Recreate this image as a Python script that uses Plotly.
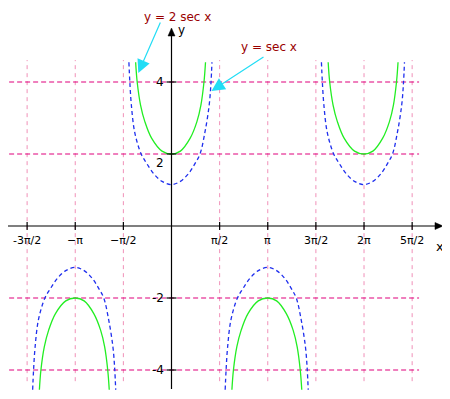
import math
import plotly.graph_objects as go

PI = math.pi

# ---- data ----
# branch centres (radians) and direction (+1 opens up, -1 opens down)
branch_centers = [-PI, 0.0, PI, 2 * PI]
branch_signs = [-1, 1, -1, 1]

# y = sec x (blue dashed): x offsets from branch centre, |y| values
sec_dx = [-1.39, -1.36, -1.31, -1.20, -0.99, -0.81, -0.59, -0.31, 0.0,
          0.29, 0.56, 0.77, 0.93, 1.09, 1.23, 1.29, 1.32]
sec_y = [4.55, 4.0, 3.36, 2.6, 2.0, 1.74, 1.46, 1.24, 1.15,
         1.24, 1.46, 1.74, 2.0, 2.6, 3.36, 4.0, 4.55]

# y = 2 sec x (green)
sec2_dx = [-1.17, -1.12, -1.01, -0.87, -0.65, -0.31, 0.0,
           0.29, 0.61, 0.83, 0.96, 1.06, 1.11]
sec2_y = [4.55, 4.0, 3.36, 2.9, 2.44, 2.08, 2.0,
          2.08, 2.44, 2.9, 3.36, 4.0, 4.55]

x_tick_vals = [-3 * PI / 2, -PI, -PI / 2, PI / 2, PI, 3 * PI / 2, 2 * PI, 5 * PI / 2]
x_tick_text = ["-3π/2", "−π", "−π/2", "π/2", "π", "3π/2", "2π", "5π/2"]
y_tick_vals = [4, 2, -2, -4]
y_tick_text = ["4", "2", "-2", "-4"]

# ---- styles / geometry ----
FONT = "DejaVu Sans"
PX_X = 30.64   # px per radian
PX_Y = 36.0    # px per unit
X0_PX, Y0_PX = 171.5, 226.0   # origin in page pixels
PAGE_W, PAGE_H = 450, 399
BODY = 8                      # default page body margin
W, H = PAGE_W - BODY, PAGE_H - BODY
xr = [(BODY - X0_PX) / PX_X, (PAGE_W - X0_PX) / PX_X]
yr = [(Y0_PX - PAGE_H) / PX_Y, (Y0_PX - BODY) / PX_Y]

def dx(px):
    return px / PX_X

def dy(px):
    return px / PX_Y

fig = go.Figure()

for c, s in zip(branch_centers, branch_signs):
    fig.add_trace(go.Scatter(
        x=[c + d for d in sec_dx], y=[s * v for v in sec_y],
        mode="lines", line=dict(color="#1f2fee", width=1.3, dash="4px,3px", shape="spline"),
        hoverinfo="skip"))
    fig.add_trace(go.Scatter(
        x=[c + d for d in sec2_dx], y=[s * v for v in sec2_y],
        mode="lines", line=dict(color="#22ee22", width=1.3, shape="spline"),
        hoverinfo="skip"))

shapes = []
# vertical pink dashed guide lines
for xv in x_tick_vals:
    shapes.append(dict(type="line", xref="x", yref="y", x0=xv, x1=xv,
                       y0=-4.31, y1=4.61, layer="below",
                       line=dict(color="#f090b8", width=1, dash="4px,4px")))
# horizontal magenta dashed lines
for yv in y_tick_vals:
    shapes.append(dict(type="line", xref="x", yref="y", x0=-5.30, x1=8.08,
                       y0=yv, y1=yv, layer="below",
                       line=dict(color="#e0007c", width=1.1, dash="5px,3px")))
# axes
x_end = 8.86
y_end = 5.5
shapes.append(dict(type="line", xref="x", yref="y", x0=xr[0], x1=x_end - dx(6),
                   y0=0, y1=0, line=dict(color="black", width=1.2)))
shapes.append(dict(type="path", xref="x", yref="y",
                   path=f"M {x_end - dx(8)},{dy(3.5)} L {x_end},0 L {x_end - dx(8)},{-dy(3.5)} Z",
                   fillcolor="black", line=dict(color="black", width=0.5)))
shapes.append(dict(type="line", xref="x", yref="y", x0=0, x1=0,
                   y0=-4.53, y1=y_end - dy(6), line=dict(color="black", width=1.2)))
shapes.append(dict(type="path", xref="x", yref="y",
                   path=f"M {-dx(3.5)},{y_end - dy(8)} L 0,{y_end} L {dx(3.5)},{y_end - dy(8)} Z",
                   fillcolor="black", line=dict(color="black", width=0.5)))
# tick marks
for xv in x_tick_vals:
    shapes.append(dict(type="line", xref="x", yref="y", x0=xv, x1=xv,
                       y0=-dy(4), y1=dy(4), line=dict(color="black", width=1.2)))
for yv in y_tick_vals:
    shapes.append(dict(type="line", xref="x", yref="y", x0=-dx(5), x1=dx(5),
                       y0=yv, y1=yv, line=dict(color="black", width=1.2)))

annotations = []
for xv, t in zip(x_tick_vals, x_tick_text):
    annotations.append(dict(x=xv, y=-dy(14), text=t, showarrow=False,
                            xanchor="center", yanchor="middle",
                            font=dict(family=FONT, size=11, color="black")))
y_label_offset = {4: 0, 2: -9, -2: 0, -4: 0}
for yv, t in zip(y_tick_vals, y_tick_text):
    annotations.append(dict(x=-dx(6), y=yv + dy(y_label_offset[yv]), text=t, showarrow=False,
                            xanchor="right", yanchor="middle",
                            font=dict(family=FONT, size=12, color="black")))
annotations.append(dict(x=dx(10), y=y_end - dy(2), text="y", showarrow=False,
                        xanchor="center", yanchor="middle",
                        font=dict(family=FONT, size=12, color="black")))
annotations.append(dict(x=dx(440 - X0_PX), y=-dy(20), text="x", showarrow=False,
                        xanchor="center", yanchor="middle",
                        font=dict(family=FONT, size=13, color="black")))
# curve labels
annotations.append(dict(x=dx(177 - X0_PX), y=dy(Y0_PX - 17), text="y = 2 sec x", showarrow=False,
                        xanchor="center", yanchor="middle",
                        font=dict(family=FONT, size=12, color="#990000")))
annotations.append(dict(x=dx(269 - X0_PX), y=dy(Y0_PX - 47), text="y = sec x", showarrow=False,
                        xanchor="center", yanchor="middle",
                        font=dict(family=FONT, size=12, color="#990000")))
# cyan pointer arrows
annotations.append(dict(x=-1.084, y=4.25, ax=-0.343, ay=5.694, axref="x", ayref="y",
                        text="", showarrow=True, arrowhead=2, arrowsize=2.2, arrowwidth=1.2,
                        arrowcolor="#22ddf5", standoff=0))
annotations.append(dict(x=1.305, y=3.75, ax=3.051, ay=4.722, axref="x", ayref="y",
                        text="", showarrow=True, arrowhead=2, arrowsize=2.2, arrowwidth=1.2,
                        arrowcolor="#22ddf5", standoff=0))

fig.update_layout(
    width=W, height=H, autosize=False,
    margin=dict(l=0, r=0, t=0, b=0),
    paper_bgcolor="white", plot_bgcolor="white",
    showlegend=False,
    xaxis=dict(range=xr, visible=False, fixedrange=True),
    yaxis=dict(range=yr, visible=False, fixedrange=True),
    shapes=shapes, annotations=annotations,
)

fig.write_html("out.html")
